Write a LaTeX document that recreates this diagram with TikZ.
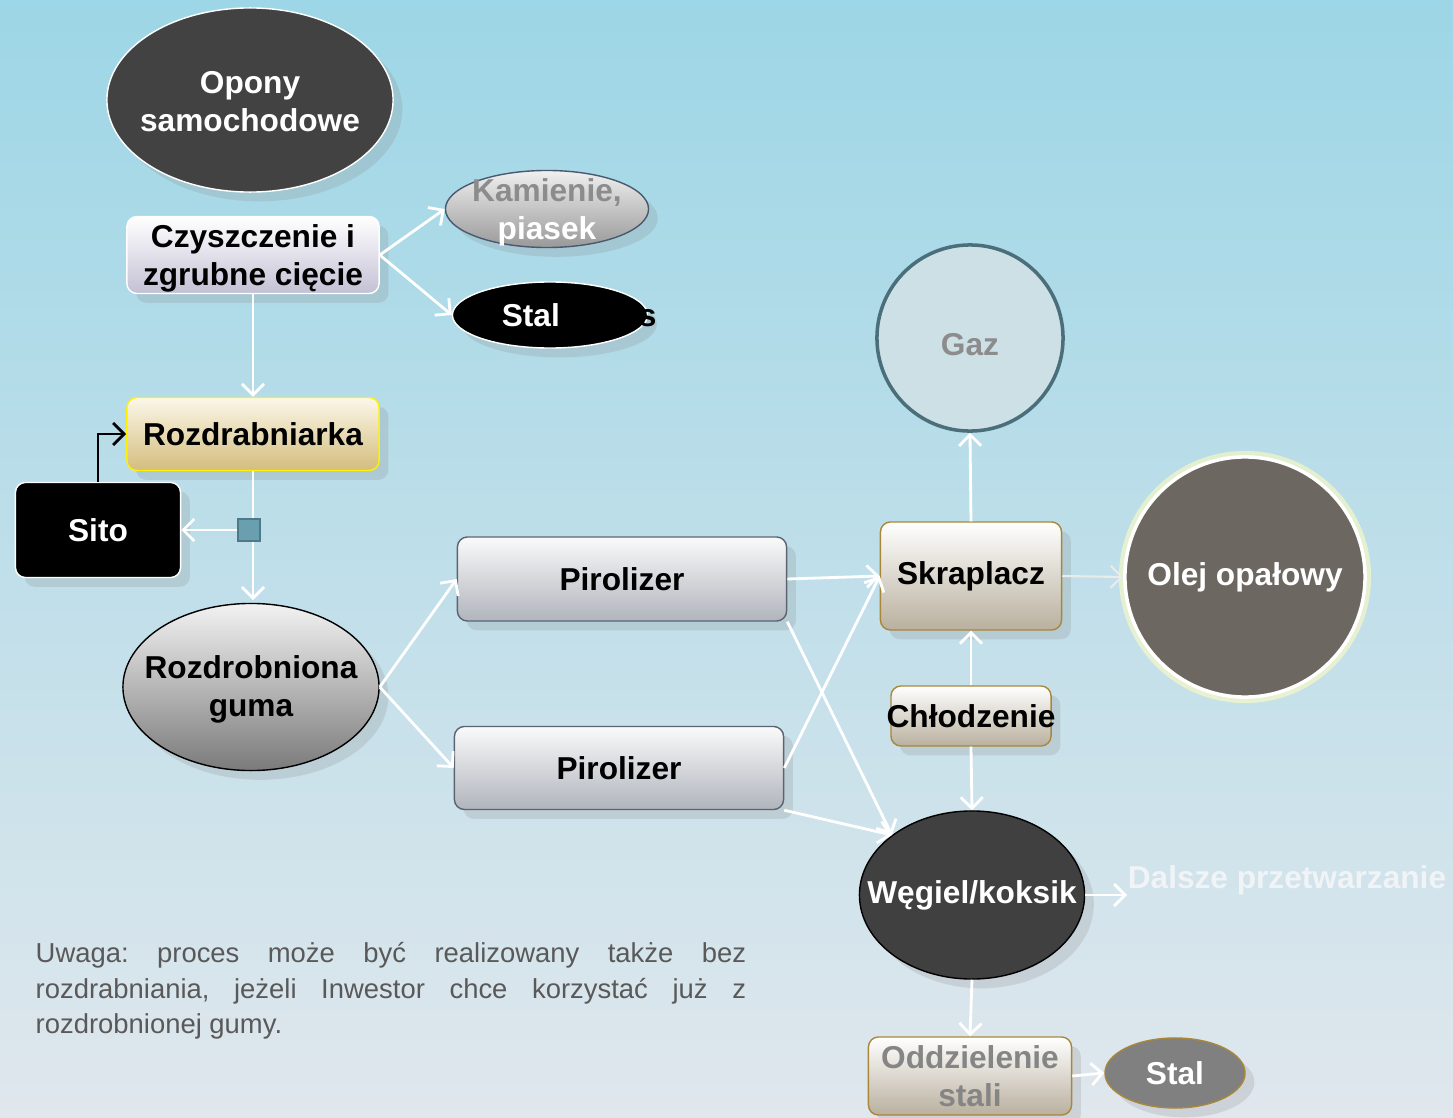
\documentclass[tikz,border=0pt]{standalone}
\usepackage{fontspec}
\setmainfont{Liberation Sans}
\usetikzlibrary{arrows.meta,shapes.geometric,positioning,shadows}
\definecolor{bgtop}{HTML}{9DD6E6}
\definecolor{bgbot}{HTML}{E0E7ED}
\definecolor{tanfill}{HTML}{B9B09E}
\definecolor{tanedge}{HTML}{A8873A}
\begin{document}
\begin{tikzpicture}[x=0.01cm, y=-0.01cm,
    lbl/.style={font=\fontsize{9}{10.8}\selectfont\bfseries, align=center, inner sep=0pt},
    box/.style={lbl, draw, rounded corners=0.1cm, drop shadow={opacity=0.2}},
    tanbox/.style={box, draw=tanedge, top color=white, bottom color=tanfill},
    oval/.style={ellipse, draw, inner sep=0pt, drop shadow={opacity=0.2}},
    arr/.style={-{Straight Barb[length=0.11cm,width=0.22cm]}, white, line width=0.8pt}
]
\useasboundingbox (0,0) rectangle (1453,1118);
\shade[top color=bgtop, bottom color=bgbot] (0,0) rectangle (1453,1118);

\node[oval, fill=black!74, draw=white, minimum width=2.86cm, minimum height=1.84cm,
  label={[lbl, text=white, yshift=-0.02cm]center:{Opony\\samochodowe}}] (opony) at (250,100) {};
\node[box, draw=white, top color=white, bottom color={rgb,255:red,196;green,192;blue,212}, minimum width=2.52cm, minimum height=0.77cm] (czyszcz) at (253,255) {\\[-0.08cm]Czyszczenie i\\zgrubne cięcie};
\node[oval, draw={rgb,255:red,74;green,88;blue,112}, top color=black!6, bottom color=black!40, minimum width=2.03cm, minimum height=0.77cm,
  label={[lbl, yshift=-0.03cm]center:{\textcolor{black!45}{Kamienie,}\\\textcolor{white}{piasek}}}] (kamienie) at (547,209) {};
\node[oval, fill=black, draw=white, minimum width=1.95cm, minimum height=0.66cm,
  label={[lbl]center:{\makebox[0pt][l]{\hspace{-13.7pt}\textcolor{white}{Stal}\hspace{22.5pt}s}}}] (stalA) at (550,315) {};
\node[box, draw=yellow, top color={rgb,255:red,251;green,247;blue,234}, bottom color={rgb,255:red,212;green,189;blue,124}, minimum width=2.52cm, minimum height=0.73cm] (rozdrab) at (253,434) {Rozdrabniarka};
\node[box, fill=black, draw=white, text=white, minimum width=1.65cm, minimum height=0.95cm] (sito) at (98,530) {Sito};
\node[oval, draw=black, top color=black!5, bottom color=black!52, minimum width=2.56cm, minimum height=1.67cm,
  label={[lbl, yshift=-0.02cm]center:{Rozdrobniona\\guma}}] (guma) at (251,687) {};
\node[box, draw={rgb,255:red,92;green,100;blue,116}, top color=black!2, bottom color={rgb,255:red,176;green,180;blue,188}, minimum width=3.29cm, minimum height=0.84cm] (piro1) at (622,579) {Pirolizer};
\node[box, draw={rgb,255:red,92;green,100;blue,116}, top color=black!2, bottom color={rgb,255:red,176;green,180;blue,188}, minimum width=3.29cm, minimum height=0.83cm] (piro2) at (619,768) {Pirolizer};
\node[circle, draw={rgb,255:red,74;green,111;blue,122}, line width=1pt, fill={rgb,255:red,205;green,224;blue,230}, minimum size=1.86cm,
  label={[lbl, text=black!45, yshift=-0.07cm]center:Gaz}] (gaz) at (970,338) {};
\node[tanbox, minimum width=1.81cm, minimum height=1.08cm] (skrapl) at (971,576) {Skraplacz};
\fill[yellow!25, opacity=0.6] (1245,577) circle (1.26cm);
\node[lbl, circle, draw=white, line width=1pt, fill={rgb,255:red,109;green,103;blue,97}, text=white, minimum size=2.4cm] (olej) at (1245,577) {Olej opałowy};
\node[tanbox, minimum width=1.6cm, minimum height=0.6cm] (chlodz) at (971,716) {\makebox[1.4cm][c]{Chłodzenie}};
\node[oval, fill=black!75, draw=black, minimum width=2.25cm, minimum height=1.68cm,
  label={[lbl, text=white]center:{Węgiel/koksik}}] (wegiel) at (972,895) {};
\node[lbl, text={rgb,255:red,240;green,244;blue,246}] (dalsze) at (1287,880) {Dalsze przetwarzanie};
\node[tanbox, text=black!48, minimum width=2.03cm, minimum height=0.78cm] (oddziel) at (970,1076) {Oddzielenie\\stali};
\node[oval, fill=black!50, draw=tanedge, minimum width=1.4cm, minimum height=0.7cm,
  label={[lbl, text=white]center:Stal}] (stalB) at (1175,1073) {};
\node[text width=7.1cm, align=justify, inner sep=0pt, anchor=north west, text=black!65, font=\fontsize{7.8}{10}\selectfont] (uwaga) at (35,942) {\frenchspacing\hyphenpenalty=10000 Uwaga: proces może być realizowany także bez\linebreak rozdrabniania, jeżeli Inwestor chce korzystać już z\linebreak rozdrobnionej gumy.};

\draw[arr] (czyszcz.south) -- (rozdrab.north);
\draw[arr] (czyszcz.east) -- (kamienie.west);
\draw[arr] (czyszcz.east) -- (stalA.west);
\draw[arr] (rozdrab.south) -- (253,600);
\node[draw={rgb,255:red,77;green,122;blue,138}, fill={rgb,255:red,106;green,159;blue,176}, line width=0.8pt, minimum size=0.22cm, inner sep=0pt] (sitoZ) at (249,530) {};
\draw[arr] (sitoZ.west) -- (sito.east);
\draw[-{Straight Barb[length=0.11cm,width=0.22cm]}, line width=0.8pt] (sito.north) |- (rozdrab.west);
\draw[arr] (guma.east) -- (piro1.west);
\draw[arr] (guma.east) -- (piro2.west);
\draw[arr] (piro1.east) -- (skrapl.west);
\draw[arr] (piro2.east) -- (skrapl.west);
\draw[arr] (piro1.south east) -- (wegiel.north west);
\draw[arr] (piro2.south east) -- (wegiel.north west);
\draw[arr] (skrapl.north) -- (gaz.south);
\draw[arr, black!8, line width=0.6pt] (skrapl.east) -- (olej.west);
\draw[arr] (chlodz.north) -- (skrapl.south);
\draw[arr] (chlodz.south) -- (wegiel.north);
\draw[arr] (wegiel.east) -- (dalsze.west |- wegiel.east);
\draw[arr] (wegiel.south) -- (oddziel.north);
\draw[arr] (oddziel.east) -- (stalB.west);
\end{tikzpicture}
\end{document}
